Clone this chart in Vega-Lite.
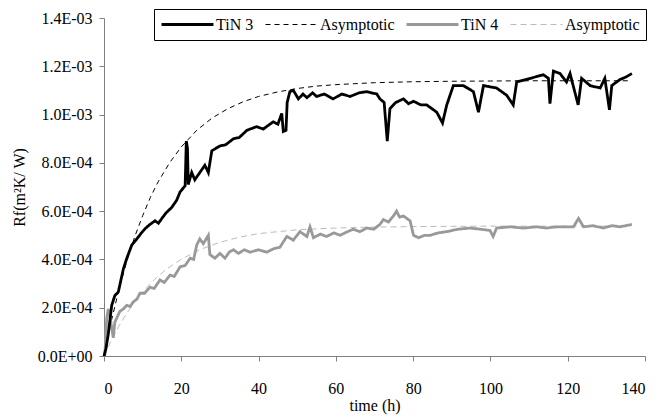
{
  "$schema": "https://vega.github.io/schema/vega-lite/v6.json",
  "width": 541,
  "height": 338,
  "autosize": {"type": "none"},
  "padding": {"left": 104, "top": 18, "right": 13, "bottom": 61},
  "background": "white",
  "config": {
    "view": {"stroke": null},
    "font": "Liberation Serif, Times New Roman, Times, serif",
    "axis": {
      "domainColor": "#808080",
      "tickColor": "#808080",
      "tickSize": 5,
      "grid": false,
      "labelFont": "Liberation Serif, Times New Roman, Times, serif",
      "labelFontSize": 16,
      "labelColor": "#000000",
      "titleFont": "Liberation Serif, Times New Roman, Times, serif",
      "titleFontSize": 16,
      "titleFontWeight": "normal",
      "titleColor": "#000000"
    }
  },
  "datasets": {
    "rows": [
      {"series": "Asymptotic 4", "t": 0, "rf": 0},
      {"series": "Asymptotic 4", "t": 2, "rf": 6.8e-5},
      {"series": "Asymptotic 4", "t": 4, "rf": 1.28e-4},
      {"series": "Asymptotic 4", "t": 6, "rf": 1.8e-4},
      {"series": "Asymptotic 4", "t": 8, "rf": 2.25e-4},
      {"series": "Asymptotic 4", "t": 10, "rf": 2.65e-4},
      {"series": "Asymptotic 4", "t": 13, "rf": 3.16e-4},
      {"series": "Asymptotic 4", "t": 16, "rf": 3.58e-4},
      {"series": "Asymptotic 4", "t": 20, "rf": 4.01e-4},
      {"series": "Asymptotic 4", "t": 25, "rf": 4.42e-4},
      {"series": "Asymptotic 4", "t": 30, "rf": 4.71e-4},
      {"series": "Asymptotic 4", "t": 35, "rf": 4.92e-4},
      {"series": "Asymptotic 4", "t": 40, "rf": 5.07e-4},
      {"series": "Asymptotic 4", "t": 50, "rf": 5.23e-4},
      {"series": "Asymptotic 4", "t": 60, "rf": 5.3e-4},
      {"series": "Asymptotic 4", "t": 70, "rf": 5.34e-4},
      {"series": "Asymptotic 4", "t": 80, "rf": 5.36e-4},
      {"series": "Asymptotic 4", "t": 90, "rf": 5.37e-4},
      {"series": "Asymptotic 4", "t": 100, "rf": 5.38e-4},
      {"series": "Asymptotic 4", "t": 136, "rf": 5.38e-4},
      {"series": "Asymptotic 3", "t": 0, "rf": 0},
      {"series": "Asymptotic 3", "t": 2, "rf": 1.52e-4},
      {"series": "Asymptotic 3", "t": 4, "rf": 2.84e-4},
      {"series": "Asymptotic 3", "t": 6, "rf": 3.98e-4},
      {"series": "Asymptotic 3", "t": 8, "rf": 4.96e-4},
      {"series": "Asymptotic 3", "t": 10, "rf": 5.81e-4},
      {"series": "Asymptotic 3", "t": 12, "rf": 6.57e-4},
      {"series": "Asymptotic 3", "t": 14, "rf": 7.21e-4},
      {"series": "Asymptotic 3", "t": 17, "rf": 8.01e-4},
      {"series": "Asymptotic 3", "t": 20, "rf": 8.66e-4},
      {"series": "Asymptotic 3", "t": 24, "rf": 9.35e-4},
      {"series": "Asymptotic 3", "t": 28, "rf": 9.86e-4},
      {"series": "Asymptotic 3", "t": 32, "rf": 1.024e-3},
      {"series": "Asymptotic 3", "t": 36, "rf": 1.053e-3},
      {"series": "Asymptotic 3", "t": 40, "rf": 1.075e-3},
      {"series": "Asymptotic 3", "t": 45, "rf": 1.094e-3},
      {"series": "Asymptotic 3", "t": 50, "rf": 1.108e-3},
      {"series": "Asymptotic 3", "t": 55, "rf": 1.118e-3},
      {"series": "Asymptotic 3", "t": 60, "rf": 1.124e-3},
      {"series": "Asymptotic 3", "t": 70, "rf": 1.132e-3},
      {"series": "Asymptotic 3", "t": 80, "rf": 1.136e-3},
      {"series": "Asymptotic 3", "t": 90, "rf": 1.138e-3},
      {"series": "Asymptotic 3", "t": 100, "rf": 1.139e-3},
      {"series": "Asymptotic 3", "t": 110, "rf": 1.14e-3},
      {"series": "Asymptotic 3", "t": 136, "rf": 1.14e-3},
      {"series": "TiN 4", "t": 0.2, "rf": 0},
      {"series": "TiN 4", "t": 0.7, "rf": 1.55e-4},
      {"series": "TiN 4", "t": 1.1, "rf": 1.95e-4},
      {"series": "TiN 4", "t": 1.6, "rf": 1.6e-4},
      {"series": "TiN 4", "t": 2.0, "rf": 1.15e-4},
      {"series": "TiN 4", "t": 2.4, "rf": 7.5e-5},
      {"series": "TiN 4", "t": 2.8, "rf": 1.4e-4},
      {"series": "TiN 4", "t": 4.1, "rf": 1.85e-4},
      {"series": "TiN 4", "t": 5.0, "rf": 1.95e-4},
      {"series": "TiN 4", "t": 5.9, "rf": 2.1e-4},
      {"series": "TiN 4", "t": 6.8, "rf": 2.05e-4},
      {"series": "TiN 4", "t": 7.6, "rf": 2.25e-4},
      {"series": "TiN 4", "t": 8.5, "rf": 2.35e-4},
      {"series": "TiN 4", "t": 9.3, "rf": 2.6e-4},
      {"series": "TiN 4", "t": 10.5, "rf": 2.6e-4},
      {"series": "TiN 4", "t": 11.9, "rf": 2.85e-4},
      {"series": "TiN 4", "t": 13.0, "rf": 2.8e-4},
      {"series": "TiN 4", "t": 14.5, "rf": 3.15e-4},
      {"series": "TiN 4", "t": 15.6, "rf": 3.05e-4},
      {"series": "TiN 4", "t": 17.1, "rf": 3.35e-4},
      {"series": "TiN 4", "t": 18.2, "rf": 3.3e-4},
      {"series": "TiN 4", "t": 19.7, "rf": 3.7e-4},
      {"series": "TiN 4", "t": 21.0, "rf": 3.75e-4},
      {"series": "TiN 4", "t": 22.3, "rf": 4.05e-4},
      {"series": "TiN 4", "t": 23.2, "rf": 4.0e-4},
      {"series": "TiN 4", "t": 24.0, "rf": 4.6e-4},
      {"series": "TiN 4", "t": 24.8, "rf": 4.85e-4},
      {"series": "TiN 4", "t": 25.7, "rf": 4.65e-4},
      {"series": "TiN 4", "t": 27.0, "rf": 5.0e-4},
      {"series": "TiN 4", "t": 27.4, "rf": 4.2e-4},
      {"series": "TiN 4", "t": 28.7, "rf": 4.05e-4},
      {"series": "TiN 4", "t": 30.0, "rf": 4.25e-4},
      {"series": "TiN 4", "t": 31.3, "rf": 4.05e-4},
      {"series": "TiN 4", "t": 32.4, "rf": 4.3e-4},
      {"series": "TiN 4", "t": 33.5, "rf": 4.4e-4},
      {"series": "TiN 4", "t": 34.8, "rf": 4.25e-4},
      {"series": "TiN 4", "t": 36.3, "rf": 4.4e-4},
      {"series": "TiN 4", "t": 37.8, "rf": 4.3e-4},
      {"series": "TiN 4", "t": 40.0, "rf": 4.4e-4},
      {"series": "TiN 4", "t": 42.1, "rf": 4.3e-4},
      {"series": "TiN 4", "t": 44.0, "rf": 4.45e-4},
      {"series": "TiN 4", "t": 45.5, "rf": 4.5e-4},
      {"series": "TiN 4", "t": 47.3, "rf": 4.95e-4},
      {"series": "TiN 4", "t": 49.0, "rf": 4.8e-4},
      {"series": "TiN 4", "t": 50.7, "rf": 5.15e-4},
      {"series": "TiN 4", "t": 52.5, "rf": 4.95e-4},
      {"series": "TiN 4", "t": 53.3, "rf": 5.35e-4},
      {"series": "TiN 4", "t": 54.2, "rf": 4.9e-4},
      {"series": "TiN 4", "t": 56.0, "rf": 5.05e-4},
      {"series": "TiN 4", "t": 57.6, "rf": 4.95e-4},
      {"series": "TiN 4", "t": 59.5, "rf": 5.1e-4},
      {"series": "TiN 4", "t": 61.1, "rf": 5.0e-4},
      {"series": "TiN 4", "t": 63.0, "rf": 5.15e-4},
      {"series": "TiN 4", "t": 64.5, "rf": 5.25e-4},
      {"series": "TiN 4", "t": 66.2, "rf": 5.15e-4},
      {"series": "TiN 4", "t": 68.0, "rf": 5.3e-4},
      {"series": "TiN 4", "t": 69.8, "rf": 5.25e-4},
      {"series": "TiN 4", "t": 71.4, "rf": 5.45e-4},
      {"series": "TiN 4", "t": 72.3, "rf": 5.65e-4},
      {"series": "TiN 4", "t": 73.6, "rf": 5.55e-4},
      {"series": "TiN 4", "t": 74.9, "rf": 5.8e-4},
      {"series": "TiN 4", "t": 75.7, "rf": 6.0e-4},
      {"series": "TiN 4", "t": 76.5, "rf": 5.75e-4},
      {"series": "TiN 4", "t": 77.5, "rf": 5.8e-4},
      {"series": "TiN 4", "t": 79.2, "rf": 5.6e-4},
      {"series": "TiN 4", "t": 80.1, "rf": 5.0e-4},
      {"series": "TiN 4", "t": 81.4, "rf": 4.9e-4},
      {"series": "TiN 4", "t": 83.0, "rf": 5.0e-4},
      {"series": "TiN 4", "t": 84.4, "rf": 5.0e-4},
      {"series": "TiN 4", "t": 86.5, "rf": 5.1e-4},
      {"series": "TiN 4", "t": 88.7, "rf": 5.15e-4},
      {"series": "TiN 4", "t": 91.5, "rf": 5.25e-4},
      {"series": "TiN 4", "t": 94.7, "rf": 5.3e-4},
      {"series": "TiN 4", "t": 97.5, "rf": 5.25e-4},
      {"series": "TiN 4", "t": 99.9, "rf": 5.2e-4},
      {"series": "TiN 4", "t": 100.7, "rf": 4.95e-4},
      {"series": "TiN 4", "t": 101.6, "rf": 5.3e-4},
      {"series": "TiN 4", "t": 105.1, "rf": 5.35e-4},
      {"series": "TiN 4", "t": 108.5, "rf": 5.3e-4},
      {"series": "TiN 4", "t": 112.0, "rf": 5.35e-4},
      {"series": "TiN 4", "t": 114.5, "rf": 5.3e-4},
      {"series": "TiN 4", "t": 117.2, "rf": 5.35e-4},
      {"series": "TiN 4", "t": 121.5, "rf": 5.35e-4},
      {"series": "TiN 4", "t": 122.8, "rf": 5.7e-4},
      {"series": "TiN 4", "t": 124.1, "rf": 5.35e-4},
      {"series": "TiN 4", "t": 126.5, "rf": 5.4e-4},
      {"series": "TiN 4", "t": 129.2, "rf": 5.3e-4},
      {"series": "TiN 4", "t": 131.5, "rf": 5.4e-4},
      {"series": "TiN 4", "t": 133.5, "rf": 5.35e-4},
      {"series": "TiN 4", "t": 136.6, "rf": 5.45e-4},
      {"series": "TiN 3", "t": 0, "rf": 0},
      {"series": "TiN 3", "t": 0.5, "rf": 3e-5},
      {"series": "TiN 3", "t": 1.1, "rf": 9e-5},
      {"series": "TiN 3", "t": 2.0, "rf": 2.1e-4},
      {"series": "TiN 3", "t": 2.8, "rf": 2.5e-4},
      {"series": "TiN 3", "t": 3.7, "rf": 2.65e-4},
      {"series": "TiN 3", "t": 5.0, "rf": 3.6e-4},
      {"series": "TiN 3", "t": 5.9, "rf": 4.05e-4},
      {"series": "TiN 3", "t": 7.2, "rf": 4.6e-4},
      {"series": "TiN 3", "t": 8.5, "rf": 4.85e-4},
      {"series": "TiN 3", "t": 9.7, "rf": 5.1e-4},
      {"series": "TiN 3", "t": 10.8, "rf": 5.3e-4},
      {"series": "TiN 3", "t": 11.9, "rf": 5.45e-4},
      {"series": "TiN 3", "t": 13.2, "rf": 5.6e-4},
      {"series": "TiN 3", "t": 14.1, "rf": 5.5e-4},
      {"series": "TiN 3", "t": 15.2, "rf": 5.75e-4},
      {"series": "TiN 3", "t": 16.2, "rf": 5.95e-4},
      {"series": "TiN 3", "t": 17.5, "rf": 6.15e-4},
      {"series": "TiN 3", "t": 18.8, "rf": 6.45e-4},
      {"series": "TiN 3", "t": 19.7, "rf": 6.8e-4},
      {"series": "TiN 3", "t": 21.0, "rf": 7.05e-4},
      {"series": "TiN 3", "t": 21.3, "rf": 8.9e-4},
      {"series": "TiN 3", "t": 21.6, "rf": 8.6e-4},
      {"series": "TiN 3", "t": 21.8, "rf": 7.1e-4},
      {"series": "TiN 3", "t": 22.7, "rf": 7.6e-4},
      {"series": "TiN 3", "t": 23.5, "rf": 7.3e-4},
      {"series": "TiN 3", "t": 24.8, "rf": 7.6e-4},
      {"series": "TiN 3", "t": 26.1, "rf": 7.9e-4},
      {"series": "TiN 3", "t": 27.0, "rf": 7.6e-4},
      {"series": "TiN 3", "t": 27.9, "rf": 8.5e-4},
      {"series": "TiN 3", "t": 30.0, "rf": 8.7e-4},
      {"series": "TiN 3", "t": 31.5, "rf": 8.75e-4},
      {"series": "TiN 3", "t": 33.5, "rf": 9.0e-4},
      {"series": "TiN 3", "t": 35.0, "rf": 9.05e-4},
      {"series": "TiN 3", "t": 37.0, "rf": 9.35e-4},
      {"series": "TiN 3", "t": 39.5, "rf": 9.5e-4},
      {"series": "TiN 3", "t": 41.2, "rf": 9.4e-4},
      {"series": "TiN 3", "t": 43.8, "rf": 9.7e-4},
      {"series": "TiN 3", "t": 45.0, "rf": 9.6e-4},
      {"series": "TiN 3", "t": 46.0, "rf": 1.005e-3},
      {"series": "TiN 3", "t": 46.4, "rf": 9.3e-4},
      {"series": "TiN 3", "t": 47.1, "rf": 9.35e-4},
      {"series": "TiN 3", "t": 47.4, "rf": 1.05e-3},
      {"series": "TiN 3", "t": 48.1, "rf": 1.095e-3},
      {"series": "TiN 3", "t": 49.0, "rf": 1.1e-3},
      {"series": "TiN 3", "t": 50.3, "rf": 1.065e-3},
      {"series": "TiN 3", "t": 51.5, "rf": 1.085e-3},
      {"series": "TiN 3", "t": 52.5, "rf": 1.07e-3},
      {"series": "TiN 3", "t": 54.0, "rf": 1.09e-3},
      {"series": "TiN 3", "t": 55.0, "rf": 1.075e-3},
      {"series": "TiN 3", "t": 57.0, "rf": 1.085e-3},
      {"series": "TiN 3", "t": 59.3, "rf": 1.065e-3},
      {"series": "TiN 3", "t": 61.5, "rf": 1.085e-3},
      {"series": "TiN 3", "t": 63.7, "rf": 1.075e-3},
      {"series": "TiN 3", "t": 66.0, "rf": 1.09e-3},
      {"series": "TiN 3", "t": 68.0, "rf": 1.095e-3},
      {"series": "TiN 3", "t": 70.6, "rf": 1.085e-3},
      {"series": "TiN 3", "t": 71.4, "rf": 1.065e-3},
      {"series": "TiN 3", "t": 72.5, "rf": 1.05e-3},
      {"series": "TiN 3", "t": 73.3, "rf": 8.9e-4},
      {"series": "TiN 3", "t": 74.0, "rf": 1.025e-3},
      {"series": "TiN 3", "t": 75.5, "rf": 1.05e-3},
      {"series": "TiN 3", "t": 77.5, "rf": 1.065e-3},
      {"series": "TiN 3", "t": 78.8, "rf": 1.045e-3},
      {"series": "TiN 3", "t": 80.1, "rf": 1.055e-3},
      {"series": "TiN 3", "t": 82.0, "rf": 1.04e-3},
      {"series": "TiN 3", "t": 83.5, "rf": 1.04e-3},
      {"series": "TiN 3", "t": 86.1, "rf": 1.01e-3},
      {"series": "TiN 3", "t": 87.6, "rf": 9.65e-4},
      {"series": "TiN 3", "t": 88.7, "rf": 1.04e-3},
      {"series": "TiN 3", "t": 90.4, "rf": 1.12e-3},
      {"series": "TiN 3", "t": 93.0, "rf": 1.12e-3},
      {"series": "TiN 3", "t": 95.6, "rf": 1.095e-3},
      {"series": "TiN 3", "t": 96.9, "rf": 1.01e-3},
      {"series": "TiN 3", "t": 98.2, "rf": 1.12e-3},
      {"series": "TiN 3", "t": 101.6, "rf": 1.11e-3},
      {"series": "TiN 3", "t": 104.2, "rf": 1.08e-3},
      {"series": "TiN 3", "t": 105.9, "rf": 1.04e-3},
      {"series": "TiN 3", "t": 106.8, "rf": 1.135e-3},
      {"series": "TiN 3", "t": 110.3, "rf": 1.15e-3},
      {"series": "TiN 3", "t": 113.7, "rf": 1.165e-3},
      {"series": "TiN 3", "t": 115.0, "rf": 1.15e-3},
      {"series": "TiN 3", "t": 115.4, "rf": 1.045e-3},
      {"series": "TiN 3", "t": 116.3, "rf": 1.18e-3},
      {"series": "TiN 3", "t": 118.0, "rf": 1.17e-3},
      {"series": "TiN 3", "t": 119.7, "rf": 1.135e-3},
      {"series": "TiN 3", "t": 120.6, "rf": 1.17e-3},
      {"series": "TiN 3", "t": 122.7, "rf": 1.04e-3},
      {"series": "TiN 3", "t": 123.6, "rf": 1.15e-3},
      {"series": "TiN 3", "t": 125.8, "rf": 1.12e-3},
      {"series": "TiN 3", "t": 128.4, "rf": 1.11e-3},
      {"series": "TiN 3", "t": 129.6, "rf": 1.15e-3},
      {"series": "TiN 3", "t": 130.8, "rf": 1.02e-3},
      {"series": "TiN 3", "t": 131.4, "rf": 1.12e-3},
      {"series": "TiN 3", "t": 133.5, "rf": 1.145e-3},
      {"series": "TiN 3", "t": 135.0, "rf": 1.155e-3},
      {"series": "TiN 3", "t": 136.6, "rf": 1.17e-3}
    ]
  },
  "data": {"name": "rows"},
  "encoding": {
    "x": {
      "field": "t", "type": "quantitative",
      "scale": {"domain": [0, 140], "nice": false},
      "axis": {"values": [0, 20, 40, 60, 80, 100, 120, 140], "title": "time (h)", "labelPadding": 19, "titlePadding": 1}
    },
    "y": {
      "field": "rf", "type": "quantitative",
      "scale": {"domain": [0, 0.0014], "nice": false},
      "axis": {
        "values": [0, 0.0002, 0.0004, 0.0006, 0.0008, 0.001, 0.0012, 0.0014],
        "labelExpr": "replace(replace(format(datum.value, '.1e'), 'e-', 'E-0'), 'e+', 'E+0')",
        "title": "Rf(m²K/ W)",
        "labelPadding": 7,
        "titlePadding": 10
      }
    },
    "color": {
      "field": "series", "type": "nominal",
      "scale": {"domain": ["TiN 3", "Asymptotic 3", "TiN 4", "Asymptotic 4"], "range": ["#000000", "#000000", "#999999", "#bbbbbb"]},
      "legend": {
        "title": null,
        "orient": "none",
        "legendX": 50,
        "legendY": -9,
        "direction": "horizontal",
        "columns": 4,
        "labelExpr": "indexof(datum.label, 'Asymptotic') == 0 ? 'Asymptotic' : datum.label",
        "labelFont": "Liberation Serif, Times New Roman, Times, serif",
        "labelFontSize": 16,
        "labelColor": "#000000",
        "labelOffset": 1,
        "columnPadding": 10,
        "symbolType": "stroke",
        "symbolSize": 2700,
        "clipHeight": 19,
        "strokeColor": "#000000",
        "fillColor": "#ffffff",
        "padding": 6
      }
    },
    "strokeDash": {
      "field": "series", "type": "nominal",
      "scale": {"domain": ["TiN 3", "Asymptotic 3", "TiN 4", "Asymptotic 4"], "range": [[1, 0], [5, 4], [1, 0], [6, 4]]}
    },
    "strokeWidth": {
      "field": "series", "type": "nominal",
      "scale": {"type": "ordinal", "domain": ["TiN 3", "Asymptotic 3", "TiN 4", "Asymptotic 4"], "range": [2.8, 1, 2.8, 1]}
    }
  },
  "layer": [
    {"transform": [{"filter": "indexof(datum.series, 'Asymptotic') == 0"}], "mark": {"type": "line", "interpolate": "linear"}},
    {"transform": [{"filter": "indexof(datum.series, 'TiN') == 0"}], "mark": {"type": "line", "interpolate": "linear"}}
  ]
}
